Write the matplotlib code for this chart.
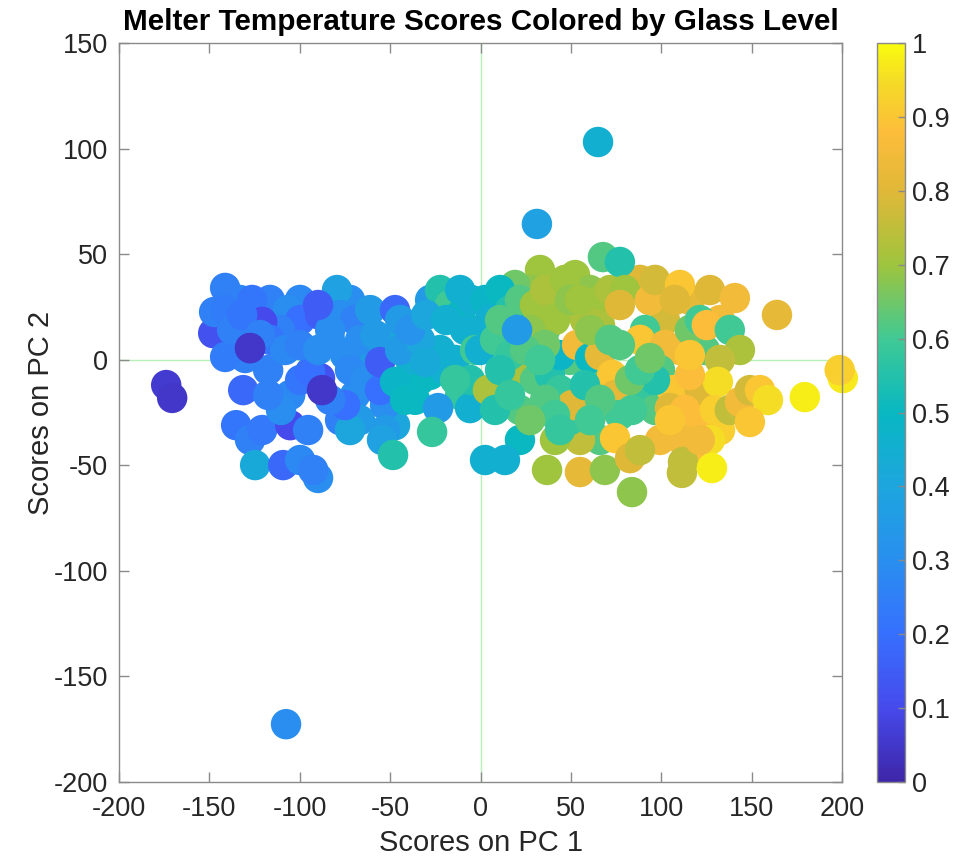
import matplotlib
matplotlib.use("Agg")
import matplotlib.pyplot as plt
import numpy as np
from matplotlib.colors import LinearSegmentedColormap

plt.rcParams['font.family'] = ['Liberation Sans', 'DejaVu Sans']
plt.rcParams['axes.unicode_minus'] = False

# ---- data (scores on PC1, scores on PC2, glass level) ----
pc1_fill = [8.0, 32.9, 44.0, 52.3, 60.6, 66.1, 71.6, 27.4, 19.1, 44.0,
            57.8, 35.7, 24.6, 13.6, 49.5, 66.1, 88.2, 96.5, 93.7, 102.0,
            88.2, 115.9, 132.5, 124.2, 99.3, 132.5, 115.9, 66.1, 55.0, 63.4,
            41.2, -5.8, -22.4, -27.9, -11.3, -33.5, -39.0, -50.1, -61.1, -72.2,
            -99.9, -116.5, -133.1, -138.6, -83.3, -69.4, -66.7, -47.3]
pc2_fill = [28.3, 42.5, 35.4, 40.1, 33.0, 28.3, 33.0, 33.0, 35.4, 23.5,
            18.8, 14.1, 2.2, 7.0, -0.1, -9.6, -16.7, -23.8, 28.3, 18.8,
            37.8, 28.3, 18.8, 4.6, -38.0, -33.3, -42.8, -38.0, -38.0, -23.8,
            -38.0, 14.1, 4.6, -7.2, -16.7, -9.6, -0.1, 9.4, -0.1, 28.3,
            28.3, 28.3, 28.3, 7.0, 9.4, -16.7, -28.6, -31.0]
lvl_fill = [0.60, 0.70, 0.72, 0.70, 0.68, 0.70, 0.72, 0.68, 0.65, 0.70,
            0.72, 0.62, 0.60, 0.62, 0.62, 0.60, 0.58, 0.62, 0.72, 0.78,
            0.80, 0.82, 0.85, 0.62, 0.85, 0.92, 0.88, 0.62, 0.75, 0.82,
            0.70, 0.50, 0.45, 0.50, 0.58, 0.50, 0.45, 0.40, 0.35, 0.30,
            0.28, 0.25, 0.28, 0.22, 0.32, 0.30, 0.35, 0.40]

pc1_blue = [-173.9, -170.6, -147.9, -147.4, -141.3, -141.3, -127.5, -126.4, -130.2, -141.3,
            -117.5, -131.3, -135.2, -127.5, -120.8, -124.7, -109.2, -107.6, -105.3, -99.8,
            -89.9, -92.6, -95.4, -105.3, -99.8, -88.8, -94.3, -106.5, -99.8, -110.9,
            -120.8, -77.7, -72.2, -74.9, -79.4, -88.8, -77.7, -69.4, -61.1, -66.6,
            -58.3, -116.4, -108.1, -99.8, -89.9, -83.2, -89.9, -74.9, -72.2, -63.9,
            -83.2, -110.4, -117.5, -137.4, -131.9, -122.0, -127.5, -87.7, -127.5]
pc2_blue = [-12.0, -18.1, 12.6, 22.6, 34.0, 23.5, 22.1, 28.3, 0.8, 1.3,
            -4.9, -14.4, -31.0, -38.0, -33.3, -49.9, -49.9, -172.6, -31.0, -47.5,
            -56.0, -52.2, -33.3, -16.7, -9.6, -8.7, -5.8, 23.5, 18.8, 14.1,
            17.9, -28.6, -33.3, -21.5, 33.0, 21.2, 21.2, 18.8, 23.5, 9.4,
            11.7, 9.4, 4.6, 6.9, 4.6, 14.1, 25.9, 2.2, -4.9, -9.6,
            -19.0, -23.8, -16.7, 14.1, 21.2, 11.7, 5.5, -14.4, 5.5]
lvl_blue = [0.06, 0.05, 0.12, 0.25, 0.25, 0.24, 0.20, 0.22, 0.25, 0.24,
            0.25, 0.18, 0.22, 0.25, 0.23, 0.42, 0.18, 0.30, 0.10, 0.28,
            0.30, 0.25, 0.25, 0.28, 0.22, 0.12, 0.20, 0.30, 0.20, 0.25,
            0.10, 0.25, 0.40, 0.20, 0.38, 0.15, 0.30, 0.25, 0.35, 0.30,
            0.35, 0.22, 0.28, 0.25, 0.30, 0.30, 0.15, 0.30, 0.28, 0.30,
            0.25, 0.30, 0.25, 0.25, 0.22, 0.25, 0.05, 0.05, 0.05]

pc1_mid = [-52.8, -52.8, -54.5, -48.4, -55.6, -47.3, -44.5, -55.6, -47.3, -41.8,
           -36.2, -44.5, -33.5, -39.0, -27.9, -22.4, -16.9, -23.5, -26.8, -19.6,
           -14.1, -11.3, -8.6, -5.8, -3.0, -5.8, -14.1, -30.1, -19.0, -30.7,
           -5.2, -11.3, 2.5, 10.8, 5.2, -0.3]
pc2_mid = [-21.5, -33.3, -38.0, -45.1, -14.4, 23.5, 18.8, -1.1, -10.5, -19.0,
           -19.0, 4.6, 9.4, 14.1, 28.3, 33.0, 25.9, -22.9, -34.2, -4.9,
           -0.1, 21.2, 14.1, -22.9, 4.6, -9.6, -9.6, 21.2, 18.8, -1.1,
           28.3, 33.0, 28.3, 33.0, 18.8, 4.6]
lvl_mid = [0.30, 0.35, 0.38, 0.55, 0.20, 0.18, 0.35, 0.15, 0.48, 0.50,
           0.50, 0.35, 0.40, 0.32, 0.35, 0.55, 0.60, 0.35, 0.58, 0.45,
           0.45, 0.50, 0.45, 0.45, 0.60, 0.55, 0.58, 0.40, 0.45, 0.42,
           0.45, 0.45, 0.48, 0.50, 0.45, 0.45]

pc1_right = [65.0, 31.2, 67.7, 77.1, 16.3, 21.8, 30.1, 41.2, 35.7, 46.7,
             49.5, 55.0, 8.0, 20.7, 4.1, 21.8, 21.8, 2.5, 13.5, 30.1,
             38.4, 44.0, 49.5, 50.6, 44.0, 53.4, 60.6, 66.1, 72.7, 74.4,
             77.1, 74.4, 83.8, 36.8, 55.0, 68.8, 82.7, 83.8, 88.2, 66.1,
             79.9, 77.1, 93.7, 91.0, 96.5, 88.2, 102.0, 110.3, 99.3, 105.9,
             96.5, 104.8, 110.3, 107.5, 115.8, 121.3, 126.9, 125.2, 140.7, 137.9,
             143.5, 132.4, 121.3, 113.1, 121.3, 131.3, 129.6, 126.9, 137.9, 143.5,
             149.0, 154.6, 159.0, 164.0, 179.4, 200.4, 198.7, 149.0, 111.4, 112.0,
             111.4, 128.0, 121.3, 104.8, 115.8, 115.8,
             10.8, 27.4, 35.7, 16.3, 24.6, 32.9, 10.8, 8.0, 16.3, 35.7,
             41.2, 27.4, 60.6, 71.6, 57.8, 66.1, 60.6, 44.0, 82.7, 88.2,
             77.1, 93.7, 20.2]
pc2_right = [103.1, 64.3, 48.6, 46.3, 23.5, 28.3, 25.9, 18.8, 33.0, 37.8,
             28.3, 28.3, 9.4, -5.8, -14.4, -23.8, -38.0, -47.5, -47.5, -9.6,
             -7.2, -14.4, -28.6, -21.5, 2.2, 7.0, 0.8, 2.2, -7.2, -16.7,
             -26.2, -37.1, -23.8, -52.2, -53.2, -52.2, -46.6, -62.7, -42.8, 16.4,
             33.0, 25.9, 28.3, 14.1, 37.8, 9.4, 7.0, 4.6, -4.9, -14.4,
             -9.6, -22.9, 35.4, 28.3, 14.1, 18.8, 33.0, 16.4, 29.2, 14.1,
             4.6, -0.1, -14.4, -23.8, -28.6, -10.5, -23.8, -38.0, -23.8, -20.0,
             -14.4, -14.4, -19.1, 21.2, -17.7, -8.7, -4.9, -29.5, -38.0, -48.4,
             -53.6, -51.3, -38.0, -28.6, -7.2, 2.2,
             18.8, 14.1, 7.0, 2.2, 4.6, -0.1, -4.9, -23.8, -16.7, -19.0,
             -26.2, -28.6, 14.1, 9.4, -12.0, -19.0, -28.6, -33.3, -9.6, -4.9,
             7.0, 0.8, 14.1]
lvl_right = [0.45, 0.38, 0.62, 0.55, 0.55, 0.62, 0.70, 0.70, 0.72, 0.70,
             0.68, 0.70, 0.60, 0.72, 0.72, 0.62, 0.50, 0.45, 0.45, 0.62,
             0.55, 0.58, 0.58, 0.80, 0.48, 0.85, 0.50, 0.82, 0.90, 0.82,
             0.60, 0.90, 0.60, 0.70, 0.82, 0.68, 0.80, 0.68, 0.75, 0.72,
             0.70, 0.80, 0.85, 0.60, 0.78, 0.90, 0.85, 0.85, 0.62, 0.90,
             0.55, 0.80, 0.90, 0.80, 0.65, 0.60, 0.80, 0.88, 0.85, 0.60,
             0.72, 0.75, 0.80, 0.88, 0.88, 0.95, 0.92, 0.95, 0.75, 0.85,
             0.78, 0.90, 0.95, 0.82, 0.98, 0.97, 0.92, 0.90, 0.85, 0.75,
             0.75, 0.98, 0.85, 0.90, 0.88, 0.90,
             0.62, 0.68, 0.65, 0.58, 0.62, 0.60, 0.55, 0.55, 0.58, 0.62,
             0.60, 0.65, 0.68, 0.62, 0.55, 0.62, 0.60, 0.58, 0.65, 0.60,
             0.62, 0.65, 0.35]

x_ticks = [-200, -150, -100, -50, 0, 50, 100, 150, 200]
y_ticks = [-200, -150, -100, -50, 0, 50, 100, 150]
c_ticks = [0, 0.1, 0.2, 0.3, 0.4, 0.5, 0.6, 0.7, 0.8, 0.9, 1]
c_labels = ['0', '0.1', '0.2', '0.3', '0.4', '0.5', '0.6', '0.7', '0.8', '0.9', '1']

# parula-like colormap
parula = LinearSegmentedColormap.from_list('parula', [
    (0.00, (0.243, 0.150, 0.660)),
    (0.10, (0.275, 0.290, 0.925)),
    (0.20, (0.215, 0.440, 0.995)),
    (0.30, (0.160, 0.560, 0.935)),
    (0.40, (0.115, 0.650, 0.870)),
    (0.50, (0.030, 0.720, 0.760)),
    (0.60, (0.250, 0.790, 0.580)),
    (0.70, (0.620, 0.770, 0.240)),
    (0.80, (0.880, 0.720, 0.220)),
    (0.88, (0.990, 0.740, 0.230)),
    (0.95, (0.960, 0.860, 0.150)),
    (1.00, (0.976, 0.983, 0.054)),
])

x = np.array(pc1_fill + pc1_blue + pc1_mid + pc1_right)
y = np.array(pc2_fill + pc2_blue + pc2_mid + pc2_right)
c = np.array(lvl_fill + lvl_blue + lvl_mid + lvl_right)

fig = plt.figure(figsize=(9.63, 8.56), dpi=100)
ax = fig.add_axes([0.1236, 0.0864, 0.7508, 0.8634])
ax.axvline(0, color='#b8f0b8', lw=1, zorder=0)
ax.axhline(0, color='#b8f0b8', lw=1, zorder=0)
sc = ax.scatter(x, y, c=c, cmap=parula, vmin=0, vmax=1, s=480, edgecolors='none',
                zorder=2, clip_on=False)

ax.set_xlim(-200, 200)
ax.set_ylim(-200, 150)
ax.set_xticks(x_ticks)
ax.set_yticks(y_ticks)
ax.tick_params(direction='in', top=True, right=True, length=7, width=1,
               labelsize=19.5, colors='#8a8a8a', labelcolor='#262626')
ax.tick_params(axis='x', pad=10)
ax.tick_params(axis='y', pad=8)
for sp in ax.spines.values():
    sp.set_color('#8a8a8a')
    sp.set_linewidth(1)
ax.set_xlabel('Scores on PC 1', fontsize=21, color='#262626', labelpad=5)
ax.set_ylabel('Scores on PC 2', fontsize=21, color='#262626', labelpad=-1)
ax.set_title('Melter Temperature Scores Colored by Glass Level', fontsize=21.3,
             fontweight='bold', pad=9)

cax = fig.add_axes([0.9107, 0.0864, 0.0291, 0.8634])
cb = fig.colorbar(sc, cax=cax, ticks=c_ticks)
cb.ax.set_yticklabels(c_labels)
cb.ax.tick_params(direction='in', length=5, width=1, labelsize=19.5,
                  colors='#8a8a8a', labelcolor='#262626', pad=5)
cb.outline.set_edgecolor('#8a8a8a')
cb.outline.set_linewidth(1)

fig.savefig('out.png', dpi=100)
